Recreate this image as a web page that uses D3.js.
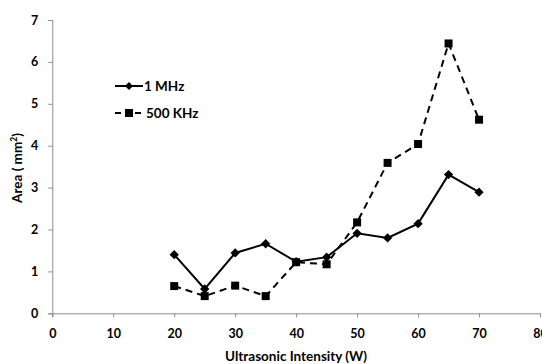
<!DOCTYPE html>
<html>
<head>
<meta charset="utf-8">
<script src="https://cdn.jsdelivr.net/npm/d3@7"></script>
<style>
  body { margin: 0; background: #fff; }
  text { font-family: Lato, "Open Sans", sans-serif; font-weight: bold; }
</style>
</head>
<body>
<script>
// chart data
const intensity = [20, 25, 30, 35, 40, 45, 50, 55, 60, 65, 70];
const mhz1 = [1.40, 0.58, 1.44, 1.66, 1.23, 1.34, 1.91, 1.80, 2.14, 3.31, 2.89];
const khz500 = [0.65, 0.41, 0.66, 0.41, 1.22, 1.17, 2.17, 3.59, 4.04, 6.44, 4.62];
const xTicks = [0, 10, 20, 30, 40, 50, 60, 70, 80];
const yTicks = [0, 1, 2, 3, 4, 5, 6, 7];

const width = 542, height = 364;
const svg = d3.select('body').append('svg')
    .attr('width', width)
    .attr('height', height);

const xScale = d3.scaleLinear().domain([0, 80]).range([52.3, 540]);
const yScale = d3.scaleLinear().domain([0, 7]).range([313.3, 20]);

// x-axis
const xAxis = svg.append('g')
    .attr('transform', `translate(0, ${yScale(0)})`)
    .call(d3.axisBottom(xScale).tickValues(xTicks).tickFormat(d3.format('d')).tickSize(4).tickPadding(12));
xAxis.select('.domain').attr('stroke', '#8c8c8c');
xAxis.selectAll('line').attr('stroke', '#8c8c8c');
xAxis.selectAll('text').attr('font-size', 12.5).attr('fill', '#000')
    .style('font-family', 'Lato, sans-serif').style('font-weight', 'bold');

// y-axis
const yAxis = svg.append('g')
    .attr('transform', `translate(${xScale(0)}, 0)`)
    .call(d3.axisLeft(yScale).tickValues(yTicks).tickFormat(d3.format('d')).tickSize(4).tickPadding(10));
yAxis.select('.domain').attr('stroke', '#8c8c8c');
yAxis.selectAll('line').attr('stroke', '#8c8c8c');
yAxis.selectAll('text').attr('font-size', 12.5).attr('fill', '#000')
    .style('font-family', 'Lato, sans-serif').style('font-weight', 'bold');

// axis titles
svg.append('text')
    .attr('x', 296)
    .attr('y', 361)
    .attr('text-anchor', 'middle')
    .attr('font-size', 13.5)
    .text('Ultrasonic Intensity (W)');

const yTitle = svg.append('text')
    .attr('transform', 'translate(22, 168) rotate(-90)')
    .attr('text-anchor', 'middle')
    .attr('font-size', 13.5);
yTitle.append('tspan').text('Area ( mm');
yTitle.append('tspan').attr('font-size', 8.5).attr('dy', -5).text('2');
yTitle.append('tspan').attr('dy', 5).text(')');

// lines
const line = d3.line()
    .x((d, i) => xScale(intensity[i]))
    .y(d => yScale(d));

svg.append('path')
    .datum(khz500)
    .attr('d', line)
    .attr('fill', 'none')
    .attr('stroke', '#000')
    .attr('stroke-width', 2)
    .attr('stroke-dasharray', '7,5');

svg.append('path')
    .datum(mhz1)
    .attr('d', line)
    .attr('fill', 'none')
    .attr('stroke', '#000')
    .attr('stroke-width', 2);

// markers
const diamond = d3.symbol().type(d3.symbolDiamond2).size(55);
svg.selectAll('.m1')
    .data(mhz1)
    .enter()
    .append('path')
    .attr('class', 'm1')
    .attr('d', diamond)
    .attr('transform', (d, i) => `translate(${xScale(intensity[i])}, ${yScale(d)})`)
    .attr('fill', '#000');

svg.selectAll('.m2')
    .data(khz500)
    .enter()
    .append('rect')
    .attr('class', 'm2')
    .attr('x', (d, i) => xScale(intensity[i]) - 4)
    .attr('y', d => yScale(d) - 4)
    .attr('width', 8)
    .attr('height', 8)
    .attr('fill', '#000');

// legend
const legend = svg.append('g');
legend.append('line')
    .attr('x1', 115).attr('x2', 143).attr('y1', 86).attr('y2', 86)
    .attr('stroke', '#000').attr('stroke-width', 2);
legend.append('path')
    .attr('d', d3.symbol().type(d3.symbolDiamond2).size(40))
    .attr('transform', 'translate(129, 86)');
legend.append('text')
    .attr('x', 144).attr('y', 91)
    .attr('font-size', 13.5)
    .text('1 MHz');

legend.append('line')
    .attr('x1', 115).attr('x2', 143).attr('y1', 113).attr('y2', 113)
    .attr('stroke', '#000').attr('stroke-width', 2)
    .attr('stroke-dasharray', '6,4');
legend.append('rect')
    .attr('x', 125).attr('y', 109).attr('width', 8).attr('height', 8);
legend.append('text')
    .attr('x', 146).attr('y', 118)
    .attr('font-size', 13.5)
    .text('500 KHz');
</script>
</body>
</html>
